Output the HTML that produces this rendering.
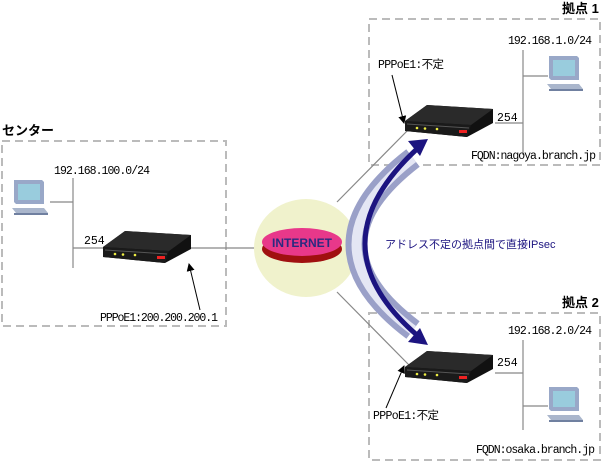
<!DOCTYPE html>
<html><head><meta charset="utf-8"><style>
body{margin:0;background:#fff}
svg text{font-family:"Liberation Sans","Noto Sans CJK JP",sans-serif}
svg text.m{font-family:"Liberation Mono","Noto Sans CJK JP",monospace;font-size:11.5px}
</style></head><body>
<svg width="602" height="462" viewBox="0 0 602 462" xmlns="http://www.w3.org/2000/svg">
<defs>
<g id="router">
 <polygon points="0,16 22,0 88,4 88,18 62,32 0,26" fill="#111"/>
 <polygon points="0,16 22,0 88,4 66,20" fill="#2a2a2a"/>
 <polygon points="0,16 66,20 62,32 0,26" fill="#1a1a1a"/>
 <line x1="2" y1="19" x2="64" y2="23" stroke="#555" stroke-width="1"/>
 <circle cx="12" cy="23" r="1.3" fill="#ee4"/><circle cx="20" cy="23.5" r="1.3" fill="#ee4"/><circle cx="32" cy="24" r="1.3" fill="#ee4"/>
 <rect x="54" y="25" width="8" height="3" fill="#e22"/>
</g>
<g id="pc">
 <polygon points="2,0 30,0 32,2 32,24 4,24 2,22" fill="#99a8c8"/>
 <rect x="6" y="4" width="22" height="16" fill="#9cd"/>
 <polygon points="0,28 32,28 36,33 4,33" fill="#aab6cc"/>
 <rect x="2" y="33" width="34" height="2" fill="#7080a0"/>
</g>
<marker id="ah" markerWidth="8" markerHeight="8" refX="7" refY="4" orient="auto" markerUnits="userSpaceOnUse"><path d="M0,0 L8,4 L0,8 z" fill="#000"/></marker>
</defs>
<g fill="none" stroke="#bbb" stroke-width="2" stroke-dasharray="8,5">
 <rect x="2" y="141" width="224" height="185"/>
 <rect x="369" y="19" width="231" height="146"/>
 <rect x="369" y="313" width="231" height="147"/>
</g>
<g font-size="13" font-weight="bold" fill="#000">
 <text x="2" y="135">センター</text>
 <text x="562" y="13">拠点 1</text>
 <text x="562" y="307">拠点 2</text>
</g>
<g stroke="#888" stroke-width="1.2">
 <line x1="73" y1="178" x2="73" y2="268"/><line x1="50" y1="202" x2="73" y2="202"/><line x1="73" y1="248" x2="103" y2="248"/>
 <line x1="190" y1="248" x2="256" y2="248"/>
 <line x1="523" y1="50" x2="523" y2="155"/><line x1="523" y1="76" x2="548" y2="76"/><line x1="495" y1="123" x2="523" y2="123"/>
 <line x1="523" y1="340" x2="523" y2="430"/><line x1="523" y1="406" x2="548" y2="406"/><line x1="495" y1="373" x2="523" y2="373"/>
 <line x1="337" y1="202" x2="410" y2="128"/><line x1="337" y1="292" x2="410" y2="366"/>
</g>
<ellipse cx="306" cy="248" rx="52" ry="49" fill="#f0f2cc"/>
<ellipse cx="302" cy="249" rx="40" ry="14" fill="#a01010"/>
<ellipse cx="302" cy="242" rx="40" ry="14" fill="#e8388a"/>
<text x="302" y="247" font-size="12" font-weight="bold" fill="#2a2a80" text-anchor="middle">INTERNET</text>
<path d="M413,158 Q300,245 413,330" fill="none" stroke="#9aa0c8" stroke-width="22"/>
<path d="M413,158 Q300,245 413,330" fill="none" stroke="#e4e6f4" stroke-width="10"/>
<path d="M418,148 Q312,245 418,336" fill="none" stroke="#1c1480" stroke-width="5"/>
<polygon points="428,139 408,141 420,156" fill="#1c1480"/>
<polygon points="428,345 408,342 420,328" fill="#1c1480"/>
<use href="#pc" x="12" y="180"/><use href="#pc" x="547" y="56"/><use href="#pc" x="547" y="387"/>
<use href="#router" x="103" y="231"/><use href="#router" x="405" y="105"/><use href="#router" x="405" y="351"/>
<g stroke="#000" stroke-width="1">
 <line x1="200" y1="310" x2="189" y2="264" marker-end="url(#ah)"/>
 <line x1="392" y1="75" x2="404" y2="123" marker-end="url(#ah)"/>
 <line x1="386" y1="408" x2="404" y2="366" marker-end="url(#ah)"/>
</g>
<g fill="#000">
 <text class="m" x="54" y="174" textLength="96">192.168.100.0/24</text>
 <text class="m" x="84" y="244">254</text>
 <text class="m" x="100" y="321" textLength="118">PPPoE1:200.200.200.1</text>
 <text class="m" x="508" y="44" textLength="84">192.168.1.0/24</text>
 <text class="m" x="497" y="121">254</text>
 <text class="m" x="378" y="68" textLength="66">PPPoE1:不定</text>
 <text class="m" x="471" y="159" textLength="125">FQDN:nagoya.branch.jp</text>
 <text class="m" x="508" y="334" textLength="84">192.168.2.0/24</text>
 <text class="m" x="497" y="366">254</text>
 <text class="m" x="373" y="419" textLength="66">PPPoE1:不定</text>
 <text class="m" x="476" y="453" textLength="119">FQDN:osaka.branch.jp</text>
</g>
<text x="385" y="248" font-size="11" fill="#1c1480">アドレス不定の拠点間で直接IPsec</text>
</svg>
</body></html>
